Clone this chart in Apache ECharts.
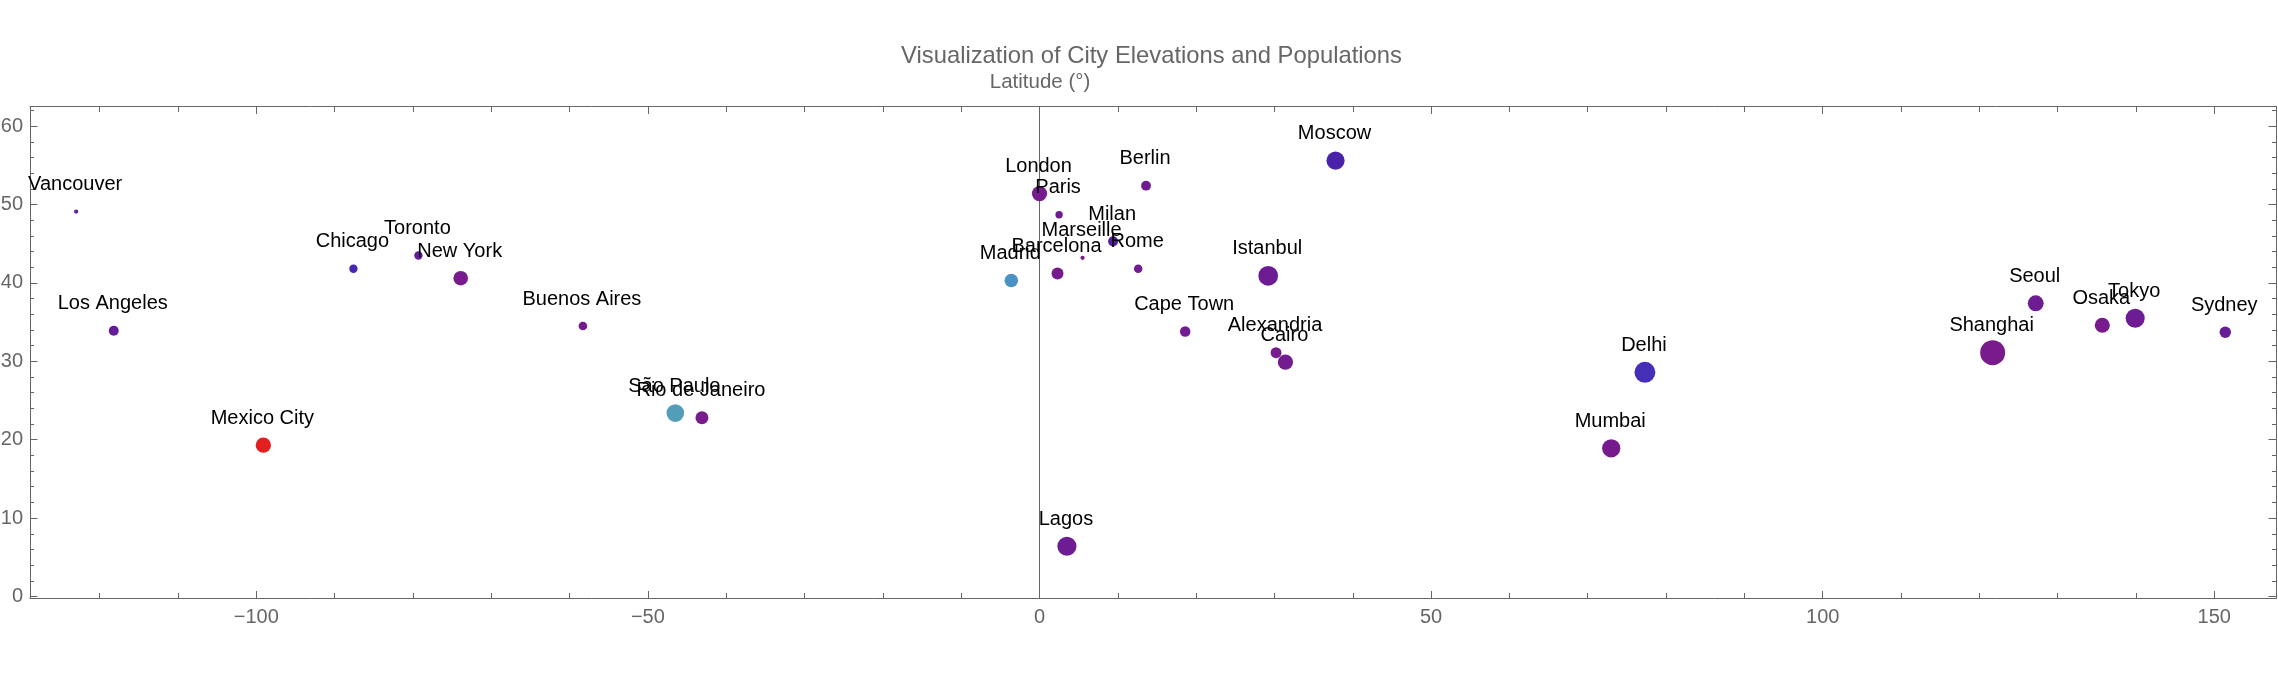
<!DOCTYPE html>
<html><head><meta charset="utf-8">
<style>html,body{margin:0;padding:0;background:#fff}#c{width:2278px;height:674px}</style>
<script src="https://cdn.jsdelivr.net/npm/echarts@6/dist/echarts.min.js"></script>
</head><body><div id="c"></div>
<script>
const cities = ["Vancouver","Los Angeles","Chicago","Toronto","New York","Buenos Aires","Mexico City","São Paulo","Rio de Janeiro","Moscow","London","Berlin","Paris","Milan","Marseille","Rome","Barcelona","Madrid","Istanbul","Cape Town","Alexandria","Cairo","Lagos","Seoul","Osaka","Tokyo","Sydney","Delhi","Mumbai","Shanghai"];
const longitudes = [-123.0,-118.2,-87.6,-79.3,-73.9,-58.3,-99.1,-46.5,-43.1,37.8,0.0,13.6,2.5,9.4,5.5,12.6,2.3,-3.6,29.2,18.6,30.2,31.4,3.5,127.2,135.7,139.9,151.4,77.3,73.0,121.7];
const latitudes = [49.1,33.9,41.8,43.5,40.6,34.5,19.3,23.4,22.8,55.6,51.4,52.4,48.7,45.3,43.2,41.8,41.2,40.3,40.9,33.8,31.1,29.9,6.4,37.4,34.6,35.5,33.7,28.6,18.9,31.1];
const populations = [0.67,3.8,2.7,2.7,8.2,2.9,9,12,6.5,12.7,8.9,3.7,2.1,3.9,0.7,2.8,5.5,7,15,4.2,4.6,9,14,9.7,8.8,14,5,16.8,12.8,24];
const elevations = [70,71,181,76,10,25,2240,760,5,156,11,34,35,120,12,21,12,667,39,25,5,23,41,38,5,40,58,216,14,4];
const xMajorTicks = [-100,-50,0,50,100,150];
const xMinorTicks = [-120,-110,-90,-80,-70,-60,-40,-30,-20,-10,10,20,30,40,60,70,80,90,110,120,130,140];
const yMajorTicks = [0,10,20,30,40,50,60];
const yMinorTicks = [2,4,6,8,12,14,16,18,22,24,26,28,32,34,36,38,42,44,46,48,52,54,56,58,62];
const titleText = "Visualization of City Elevations and Populations";
const verticalAxisName = "Latitude (°)";

const FONT = '"Liberation Sans", Arial, sans-serif';
const GRAY = '#666666';
const XR = [-1009.5/7.832, 1236.5/7.832], YR = [-0.255, 62.5];
const stops = [[0,[122,27,139]],[150,[74,32,168]],[220,[69,48,184]],[660,[74,144,194]],[760,[82,157,184]],[2240,[227,32,31]]];
function ramp(v){
  for(let i=1;i<stops.length;i++){
    if(v<=stops[i][0]){
      const a=stops[i-1],b=stops[i],t=(v-a[0])/(b[0]-a[0]);
      return 'rgb('+a[1].map((c,k)=>Math.round(c+(b[1][k]-c)*t)).join(',')+')';
    }
  }
  return 'rgb('+stops[stops.length-1][1].join(',')+')';
}
function mk(kind, position, ticks, len, labelled, line){
  return {
    type:'value', position, min:kind==='x'?XR[0]:YR[0], max:kind==='x'?XR[1]:YR[1],
    splitLine:{show:false}, axisLine:{show:line,onZero:false,lineStyle:{color:GRAY,width:1}},
    axisTick:{show:true,inside:true,length:len,customValues:ticks,lineStyle:{color:GRAY,width:1}},
    axisLabel:labelled?{show:true,customValues:ticks,color:GRAY,fontFamily:FONT,fontSize:20,margin:kind==='x'?9:7,
      formatter:v=>String(v).replace('-','\u2212')}:{show:false}
  };
}
const zeroAxis = mk('y','left',[],0,false,true);
zeroAxis.axisLine = {show:true,onZero:true,onZeroAxisIndex:0,lineStyle:{color:GRAY,width:1}};
zeroAxis.axisTick = {show:false};
const chart = echarts.init(document.getElementById('c'),null,{renderer:'canvas'});
chart.setOption({
  animation:false, backgroundColor:'#fff',
  title:[
    {text:titleText,left:1151.5,top:44,padding:0,textAlign:'center',textStyle:{color:GRAY,fontFamily:FONT,fontWeight:'normal',fontSize:23.8}},
    {text:verticalAxisName,left:1040,top:72,padding:0,textAlign:'center',textStyle:{color:GRAY,fontFamily:FONT,fontWeight:'normal',fontSize:20.5}}
  ],
  grid:{left:30,right:2,top:106.5,bottom:75.5,containLabel:false,outerBoundsMode:'none'},
  xAxis:[mk('x','bottom',xMajorTicks,7.5,true,true),mk('x','top',xMajorTicks,7.5,false,true),
         mk('x','bottom',xMinorTicks,5.5,false,false),mk('x','top',xMinorTicks,5.5,false,false)],
  yAxis:[mk('y','left',yMajorTicks,7.5,true,true),mk('y','right',yMajorTicks,7.5,false,true),
         mk('y','left',yMinorTicks,4,false,false),mk('y','right',yMinorTicks,4,false,false),zeroAxis],
  series:[{
    type:'scatter', xAxisIndex:0, yAxisIndex:0, clip:false,
    data:cities.map((c,i)=>({name:c,value:[longitudes[i],latitudes[i],populations[i],elevations[i]]})),
    symbol:'circle',
    symbolSize:v=>5.1*Math.sqrt(v[2]),
    itemStyle:{opacity:1,color:p=>ramp(p.value[3])},
    label:{show:true,position:'inside',offset:[-1,-27],align:'center',verticalAlign:'middle',
      formatter:p=>p.name,color:'#000',fontFamily:FONT,fontSize:20}
  }]
});
</script></body></html>
